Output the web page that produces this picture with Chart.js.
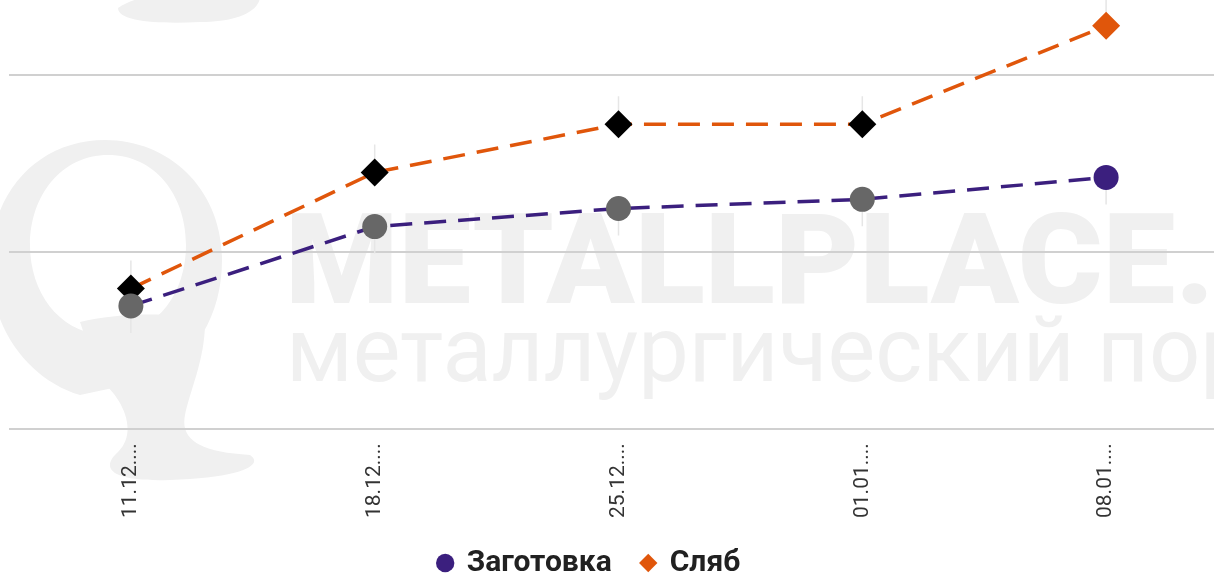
<!DOCTYPE html>
<html>
<head>
<meta charset="utf-8">
<script src="https://cdn.jsdelivr.net/npm/chart.js@4"></script>
<style>
  html, body { margin: 0; padding: 0; background: #fff; overflow: hidden; }
  #wrap { position: relative; width: 1228px; height: 594px; }
  .wm { position: absolute; color: #f0f0f0; white-space: nowrap; font-family: Roboto, sans-serif; pointer-events: none; }
  #wm1 { left: 285px; top: 196px; font-size: 127px; line-height: 1; font-weight: 900; transform: scaleX(1.02); transform-origin: 0 0; }
  #wm2 { left: 286px; top: 298px; font-size: 90px; font-weight: 400; }
  #logo { position: absolute; left: 0; top: 0; }
  canvas { position: absolute; left: 0; top: 0; }
</style>
</head>
<body>
<div id="wrap">
  <svg id="logo" width="300" height="574">
    <path d="M105 140 C 40 140 -10 190 -10 265 C -10 330 30 380 80 395 L 150 380 C 195 360 222 315 222 260 C 222 190 170 140 105 140 Z M108 155 C 155 155 186 195 186 245 C 186 295 155 335 108 335 C 62 335 30 295 30 245 C 30 195 62 155 108 155 Z" fill="#f0f0f0" fill-rule="evenodd"/>
    <path d="M80 322 C 120 312 180 312 205 322 C 205 360 190 390 185 415 C 180 440 200 452 250 455 C 265 465 240 478 170 480 C 110 482 100 468 118 452 C 140 430 120 395 100 380 Z" fill="#f0f0f0"/>
    <path d="M118 8 C 130 0 145 -4 160 -4 L 260 -4 C 260 10 240 22 200 22 C 160 24 118 22 118 8 Z" fill="#f0f0f0"/>
  </svg>
  <div class="wm" id="wm1">METALLPLACE.RU</div>
  <div class="wm" id="wm2">металлургический портал</div>
  <canvas id="chart" width="1228" height="594"></canvas>
</div>
<script>
const dates = ["11.12.2023", "18.12.2023", "25.12.2023", "01.01.2024", "08.01.2024"];
const zagotovka = [434.8, 457.2, 462.3, 464.9, 471.1];
const slyab = [439.7, 472.5, 486.1, 486.1, 513.9];
const labels = ["Заготовка", "Сляб"];
const gridTicks = [400, 450, 500];

const purple = "#3b1f7e";
const orange = "#e0560b";

function pointColours(n, base, last) {
  let out = [];
  for (let i = 0; i < n; i++) out.push(i === n - 1 ? last : base);
  return out;
}

// faint whiskers above the top point and below the bottom point of each date
const guides = {
  id: "guides",
  beforeDatasetsDraw(chart) {
    const ctx = chart.ctx;
    const x = chart.scales.x, y = chart.scales.y;
    ctx.save();
    ctx.strokeStyle = "#e6e6e6";
    ctx.lineWidth = 1.5;
    for (let i = 0; i < dates.length; i++) {
      const px = x.getPixelForValue(i);
      const top = y.getPixelForValue(Math.max(zagotovka[i], slyab[i]));
      const bottom = y.getPixelForValue(Math.min(zagotovka[i], slyab[i]));
      ctx.beginPath();
      ctx.moveTo(px, top - 28);
      ctx.lineTo(px, top - 8);
      ctx.moveTo(px, bottom + 8);
      ctx.lineTo(px, bottom + 27);
      ctx.stroke();
    }
    ctx.restore();
  }
};

// nudge the legend box: the original sits a little left of centre
const legendShift = {
  id: "legendShift",
  afterLayout(chart) {
    const lg = chart.legend;
    lg.left -= 29; lg.right -= 29;
    lg.top -= 6; lg.bottom -= 6;
  }
};

const ctx = document.getElementById("chart").getContext("2d");
new Chart(ctx, {
  type: "line",
  data: {
    labels: dates,
    datasets: [
      {
        label: labels[0],
        data: zagotovka,
        borderColor: purple,
        backgroundColor: purple,
        borderWidth: 3.5,
        borderDash: [22, 12],
        fill: false,
        pointStyle: "circle",
        pointRadius: 12.5,
        pointHoverRadius: 12.5,
        pointBorderWidth: 0,
        pointBackgroundColor: pointColours(dates.length, "#676767", purple),
        pointBorderColor: pointColours(dates.length, "#676767", purple)
      },
      {
        label: labels[1],
        data: slyab,
        borderColor: orange,
        backgroundColor: orange,
        borderWidth: 3.5,
        borderDash: [22, 12],
        fill: false,
        pointStyle: "rectRot",
        pointRadius: 14,
        pointHoverRadius: 14,
        pointBorderWidth: 0,
        pointBackgroundColor: pointColours(dates.length, "#000000", orange),
        pointBorderColor: pointColours(dates.length, "#000000", orange)
      }
    ]
  },
  options: {
    responsive: false,
    animation: false,
    layout: { autoPadding: false, padding: { left: 9, right: 0, top: 0, bottom: 0 } },
    scales: {
      x: {
        offset: true,
        grid: { display: false },
        border: { display: false },
        ticks: {
          maxRotation: 90,
          minRotation: 90,
          color: "#333",
          font: { family: "Roboto", size: 21 },
          padding: 6,
          callback: function (value) {
            return this.getLabelForValue(value).slice(0, 6) + "...";
          }
        }
      },
      y: {
        min: 400,
        max: 521.2,
        afterBuildTicks: (axis) => { axis.ticks = gridTicks.map(v => ({ value: v })); },
        afterFit: (axis) => { axis.width = 0; },
        ticks: { display: false },
        border: { display: false },
        grid: { color: "#d0d0d0", lineWidth: 2, drawTicks: false }
      }
    },
    plugins: {
      legend: {
        position: "bottom",
        onClick: () => {},
        labels: {
          usePointStyle: true,
          boxWidth: 13,
          boxHeight: 13,
          padding: 30,
          color: "#212121",
          font: { family: "Roboto", size: 30, weight: "bold" },
          generateLabels: (chart) => {
            const items = Chart.defaults.plugins.legend.labels.generateLabels(chart);
            items.forEach((it, i) => {
              const c = chart.data.datasets[i].borderColor;
              it.fillStyle = c;
              it.strokeStyle = c;
              it.lineWidth = 0;
            });
            return items;
          }
        }
      },
      tooltip: { enabled: false }
    }
  },
  plugins: [guides, legendShift]
});
</script>
</body>
</html>
